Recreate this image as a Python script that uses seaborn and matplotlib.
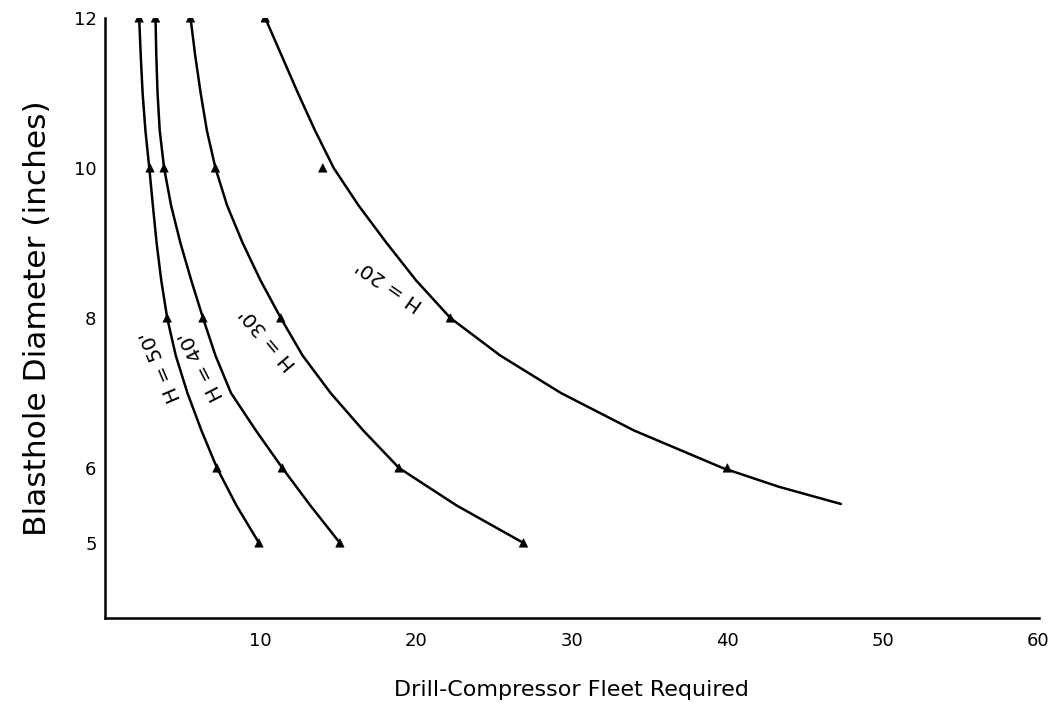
import numpy as np
import pandas as pd
import matplotlib
matplotlib.use("Agg")
import matplotlib.pyplot as plt
import seaborn as sns

# Curve traces (fleet size, blasthole diameter) for each bench height
h20_fleet = [10.3, 11.35, 12.4, 13.5, 14.7, 16.3, 18.1, 20.0, 22.2, 25.4, 29.3, 34.0, 39.7, 43.3, 47.3]
h20_diam = [12.0, 11.5, 11.0, 10.5, 10.0, 9.5, 9.0, 8.5, 8.0, 7.5, 7.0, 6.5, 6.0, 5.75, 5.52]

h30_fleet = [5.5, 5.8, 6.15, 6.55, 7.1, 7.85, 8.85, 10.0, 11.3, 12.7, 14.5, 16.6, 18.9, 22.6, 26.9]
h30_diam = [12.0, 11.5, 11.0, 10.5, 10.0, 9.5, 9.0, 8.5, 8.0, 7.5, 7.0, 6.5, 6.0, 5.5, 5.0]

h40_fleet = [3.25, 3.3, 3.38, 3.52, 3.8, 4.25, 4.85, 5.55, 6.3, 7.1, 8.1, 9.7, 11.4, 13.2, 15.1]
h40_diam = [12.0, 11.5, 11.0, 10.5, 10.0, 9.5, 9.0, 8.5, 8.0, 7.5, 7.0, 6.5, 6.0, 5.5, 5.0]

h50_fleet = [2.2, 2.3, 2.42, 2.6, 2.85, 3.08, 3.32, 3.62, 4.0, 4.55, 5.3, 6.2, 7.2, 8.45, 9.9]
h50_diam = [12.0, 11.5, 11.0, 10.5, 10.0, 9.5, 9.0, 8.5, 8.0, 7.5, 7.0, 6.5, 6.0, 5.5, 5.0]

# Computed design points marked with triangles
h20_pts_fleet = [10.3, 14.0, 22.2, 40.0]
h20_pts_diam = [12, 10, 8, 6]
h30_pts_fleet = [5.5, 7.1, 11.3, 18.9, 26.9]
h30_pts_diam = [12, 10, 8, 6, 5]
h40_pts_fleet = [3.25, 3.8, 6.3, 11.4, 15.1]
h40_pts_diam = [12, 10, 8, 6, 5]
h50_pts_fleet = [2.2, 2.9, 4.0, 7.2, 9.9]
h50_pts_diam = [12, 10, 8, 6, 5]

heights = ["H = 20'", "H = 30'", "H = 40'", "H = 50'"]
x_ticks = [10, 20, 30, 40, 50, 60]
y_ticks = [5, 6, 8, 10, 12]

curves = pd.concat([
    pd.DataFrame({"fleet": f, "diam": d, "H": h})
    for f, d, h in zip([h20_fleet, h30_fleet, h40_fleet, h50_fleet],
                       [h20_diam, h30_diam, h40_diam, h50_diam], heights)
], ignore_index=True)
points = pd.concat([
    pd.DataFrame({"fleet": f, "diam": d, "H": h})
    for f, d, h in zip([h20_pts_fleet, h30_pts_fleet, h40_pts_fleet, h50_pts_fleet],
                       [h20_pts_diam, h30_pts_diam, h40_pts_diam, h50_pts_diam], heights)
], ignore_index=True)

sns.set_style("white")
plt.rcParams["font.family"] = ["DejaVu Sans"]

fig = plt.figure(figsize=(10.59, 7.16), dpi=100)
ax = fig.add_axes([0.0991, 0.1369, 0.8816, 0.838])

palette = {h: "black" for h in heights}
sns.lineplot(data=curves, x="fleet", y="diam", hue="H", palette=palette,
             sort=False, estimator=None, linewidth=1.8, legend=False, ax=ax)
sns.scatterplot(data=points, x="fleet", y="diam", hue="H", palette=palette,
                marker="^", s=36, edgecolor="black", linewidth=0.5,
                legend=False, ax=ax, zorder=3)

# Curve labels set along each line
label_pos = {"H = 20'": (18.3, 8.45, 145),
             "H = 30'": (10.5, 7.73, 130),
             "H = 40'": (6.2, 7.37, 117),
             "H = 50'": (3.6, 7.35, 113)}
for h, (lx, ly, rot) in label_pos.items():
    ax.text(lx, ly, h, rotation=rot, rotation_mode="anchor",
            ha="center", va="center", fontsize=14.5, color="black")

ax.set_xlim(0, 60)
ax.set_ylim(4, 12)
ax.set_xticks(x_ticks)
ax.set_yticks(y_ticks)
ax.tick_params(direction="in", length=5, width=1.2, labelsize=13,
               colors="black")
ax.tick_params(axis="x", pad=10)
ax.tick_params(axis="y", pad=6)
for s in ["top", "right"]:
    ax.spines[s].set_visible(False)
for s in ["left", "bottom"]:
    ax.spines[s].set_linewidth(1.8)
    ax.spines[s].set_color("black")

ax.set_xlabel("Drill-Compressor Fleet Required", fontsize=16, labelpad=22,
              color="black")
ax.set_ylabel("Blasthole Diameter (inches)", fontsize=22.5, labelpad=16,
              color="black")

fig.savefig("out.png", dpi=100)
